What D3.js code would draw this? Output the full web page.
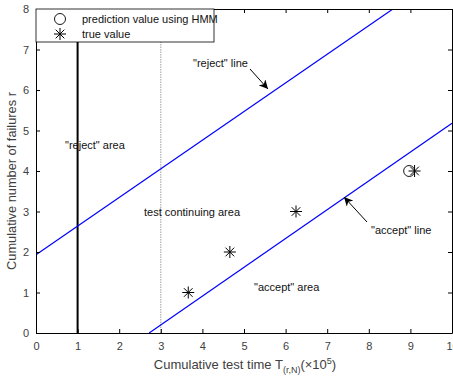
<!DOCTYPE html>
<html>
<head>
<meta charset="utf-8">
<script src="https://cdn.jsdelivr.net/npm/d3@7"></script>
<style>
  body { margin: 0; background: #fff; }
  svg { display: block; font-family: "Liberation Sans", Arial, sans-serif; }
</style>
</head>
<body>
<script>
// values
const xTicks = [0, 1, 2, 3, 4, 5, 6, 7, 8, 9, 10];
const yTicks = [0, 1, 2, 3, 4, 5, 6, 7, 8];
const trueT = [3.66, 4.66, 6.25, 9.1];
const trueR = [1, 2, 3, 4];
const predT = [8.97];
const predR = [4];
const rejectLine = [[0, 1.93], [8.58, 8]];
const acceptLine = [[2.72, 0], [10, 5.18]];
const solidX = 1;
const dottedX = 3;

const W = 453, H = 377;
const m = { left: 36, right: 1, top: 9, bottom: 44 };

const svg = d3.select('body').append('svg')
    .attr('width', W)
    .attr('height', H);

const x = d3.scaleLinear().domain([0, 10]).range([m.left, W - m.right]);
const y = d3.scaleLinear().domain([0, 8]).range([H - m.bottom, m.top]);

const tickCol = '#404040';

// clip for data
svg.append('defs').append('clipPath').attr('id', 'plot')
   .append('rect')
   .attr('x', m.left).attr('y', m.top)
   .attr('width', x(10) - m.left).attr('height', y(0) - m.top);

const plot = svg.append('g').attr('clip-path', 'url(#plot)');

// vertical markers
plot.append('line')
    .attr('x1', x(solidX)).attr('x2', x(solidX))
    .attr('y1', y(0)).attr('y2', y(8))
    .attr('stroke', '#000').attr('stroke-width', 2);
plot.append('line')
    .attr('x1', x(dottedX)).attr('x2', x(dottedX))
    .attr('y1', y(0)).attr('y2', y(8))
    .attr('stroke', '#777').attr('stroke-width', 0.7)
    .attr('stroke-dasharray', '1.5,1');

const line = d3.line().x(d => x(d[0])).y(d => y(d[1]));
[rejectLine, acceptLine].forEach(l => {
    plot.append('path')
        .attr('d', line(l))
        .attr('fill', 'none')
        .attr('stroke', '#0000ff')
        .attr('stroke-width', 1.2);
});

// star marker path
function star(cx, cy, r) {
    const d = r * 0.72;
    return `M${cx - r},${cy}L${cx + r},${cy}M${cx},${cy - r}L${cx},${cy + r}` +
           `M${cx - d},${cy - d}L${cx + d},${cy + d}M${cx - d},${cy + d}L${cx + d},${cy - d}`;
}

plot.selectAll('circle.pred')
    .data(predT)
    .enter().append('circle')
    .attr('class', 'pred')
    .attr('cx', d => x(d))
    .attr('cy', (d, i) => y(predR[i]))
    .attr('r', 5.5)
    .attr('fill', 'none')
    .attr('stroke', '#000')
    .attr('stroke-width', 0.9);

plot.selectAll('path.true')
    .data(trueT)
    .enter().append('path')
    .attr('class', 'true')
    .attr('d', (d, i) => star(x(d), y(trueR[i]), 6))
    .attr('stroke', '#000')
    .attr('stroke-width', 1);

// axes
const axB = svg.append('g')
    .attr('transform', `translate(0,${y(0)})`)
    .call(d3.axisBottom(x).tickValues(xTicks).tickSizeInner(-4).tickSizeOuter(0).tickPadding(9));
const axT = svg.append('g')
    .attr('transform', `translate(0,${y(8)})`)
    .call(d3.axisTop(x).tickValues(xTicks).tickSizeInner(-4).tickSizeOuter(0).tickFormat(''));
const axL = svg.append('g')
    .attr('transform', `translate(${x(0)},0)`)
    .call(d3.axisLeft(y).tickValues(yTicks).tickSizeInner(-4).tickSizeOuter(0).tickPadding(9));
const axR = svg.append('g')
    .attr('transform', `translate(${x(10)},0)`)
    .call(d3.axisRight(y).tickValues(yTicks).tickSizeInner(-4).tickSizeOuter(0).tickFormat(''));

[axB, axT, axL, axR].forEach(a => {
    a.select('.domain').attr('stroke', '#000').attr('stroke-width', 1);
    a.selectAll('.tick line').attr('stroke', '#000');
    a.selectAll('.tick text').attr('fill', tickCol).attr('font-size', 11)
     .attr('font-family', '"Liberation Sans", Arial, sans-serif');
});
axL.selectAll('.tick text').attr('dx', 2);

// axis labels
svg.append('text')
   .attr('transform', `translate(16,${(y(0) + y(8)) / 2 + 10}) rotate(-90)`)
   .attr('text-anchor', 'middle')
   .attr('font-size', 12.8)
   .attr('fill', tickCol)
   .text('Cumulative number of failures r');

const xl = svg.append('text')
   .attr('x', 245).attr('y', 369)
   .attr('text-anchor', 'middle')
   .attr('font-size', 13)
   .attr('fill', tickCol);
xl.append('tspan').text('Cumulative test time T');
xl.append('tspan').attr('font-size', 9).attr('dy', 4).text('(r,N)');
xl.append('tspan').attr('dy', -4).text('(\u00d710');
xl.append('tspan').attr('font-size', 9).attr('dy', -5).text('5');
xl.append('tspan').attr('dy', 5).text(')');

// legend
const lg = svg.append('g');
lg.append('rect')
  .attr('x', x(0)).attr('y', y(8))
  .attr('width', 178).attr('height', 33)
  .attr('fill', '#fff').attr('stroke', '#000').attr('stroke-width', 0.8);
lg.append('circle').attr('cx', 60).attr('cy', 19).attr('r', 5.5)
  .attr('fill', 'none').attr('stroke', '#000').attr('stroke-width', 0.9);
lg.append('path').attr('d', star(60, 34, 6)).attr('stroke', '#000');
lg.append('text').attr('x', 82).attr('y', 23).attr('font-size', 11).attr('fill', '#111')
  .text('prediction value using HMM');
lg.append('text').attr('x', 82).attr('y', 38).attr('font-size', 11).attr('fill', '#111')
  .text('true value');

// annotations
const notes = [
    { t: '"reject" area', x: 65, y: 149 },
    { t: '"reject" line', x: 193, y: 67 },
    { t: 'test continuing area', x: 144, y: 215.5 },
    { t: '"accept" area', x: 254, y: 290.5 },
    { t: '"accept" line', x: 371, y: 234 }
];
svg.selectAll('text.note')
   .data(notes)
   .enter().append('text')
   .attr('class', 'note')
   .attr('x', d => d.x).attr('y', d => d.y)
   .attr('font-size', 11)
   .attr('fill', '#111')
   .text(d => d.t);

// arrows
svg.append('defs').append('marker')
   .attr('id', 'ah')
   .attr('viewBox', '0 0 10 10')
   .attr('refX', 10).attr('refY', 5)
   .attr('markerWidth', 9).attr('markerHeight', 9)
   .attr('markerUnits', 'userSpaceOnUse')
   .attr('orient', 'auto')
   .append('path').attr('d', 'M0,0L10,5L0,10L3,5Z').attr('fill', '#000');

const arrows = [
    [[250, 69], [268, 89]],
    [[367, 222], [344, 197]]
];
arrows.forEach(a => {
    svg.append('line')
       .attr('x1', a[0][0]).attr('y1', a[0][1])
       .attr('x2', a[1][0]).attr('y2', a[1][1])
       .attr('stroke', '#000').attr('stroke-width', 1)
       .attr('marker-end', 'url(#ah)');
});
</script>
</body>
</html>
